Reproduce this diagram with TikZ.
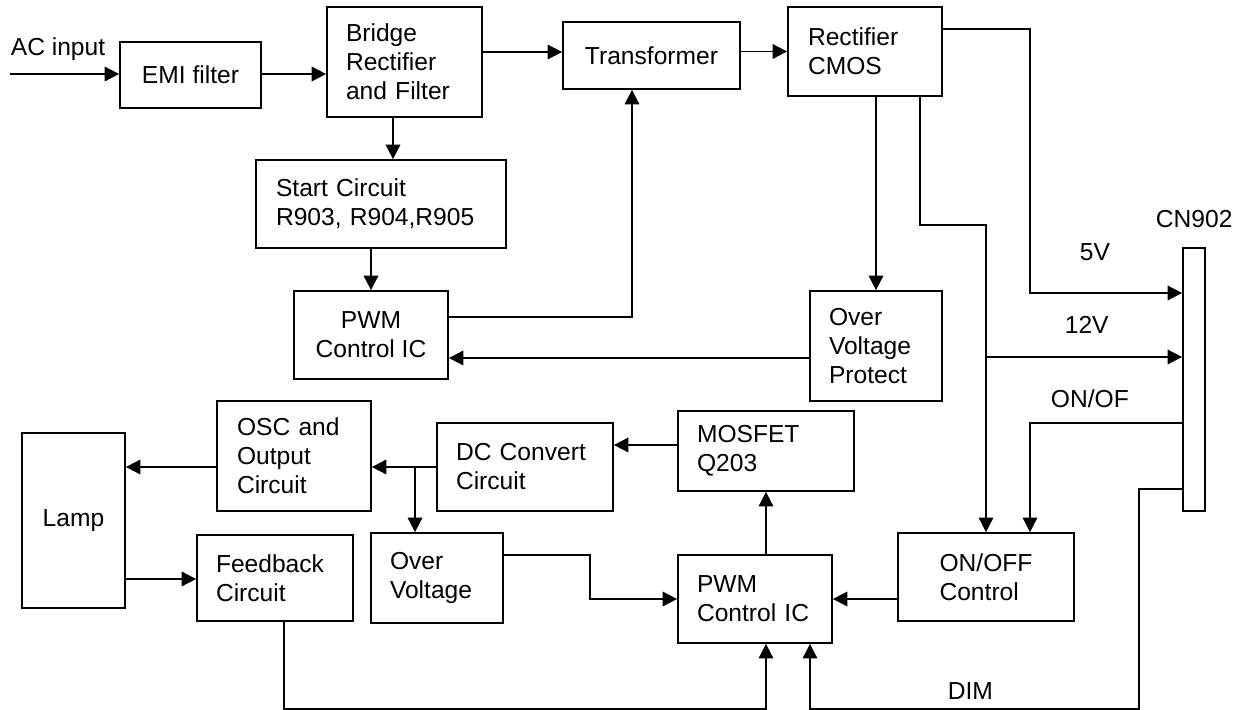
\documentclass[tikz,border=0pt]{standalone}
\usepackage{fontspec}
\setmainfont{Liberation Sans}
\usetikzlibrary{arrows.meta}

\begin{document}
\begin{tikzpicture}[
    x=0.02cm, y=-0.02cm,
    font=\fontsize{14}{16.5}\selectfont,
    >={Triangle[length=0.29cm,width=0.29cm]},
    line width=1pt,
    blk/.style={draw=black, rectangle, inner sep=0pt, align=left},
    lbl/.style={inner sep=0pt, anchor=base west}
]
\useasboundingbox (0,0) rectangle (1245,710);

% top row
\node[blk, align=center, minimum width=2.82cm, minimum height=1.32cm] (emi) at (190.5,75) {EMI filter};
\node[blk, text width=2.34cm, minimum width=3.10cm, minimum height=2.20cm] (bridge) at (404.5,62) {Bridge\\Rectifier\\and Filter};
\node[blk, align=center, minimum width=3.54cm, minimum height=1.34cm] (trans) at (651.5,55.5) {Transformer};
\node[blk, text width=2.28cm, minimum width=3.08cm, minimum height=1.78cm] (rect) at (865,51.5) {Rectifier\\CMOS};

% primary side
\node[blk, text width=4.20cm, minimum width=5.00cm, minimum height=1.76cm] (start) at (381,204) {Start Circuit\\R903, R904,R905};
\node[blk, align=center, minimum width=3.08cm, minimum height=1.76cm] (pwm1) at (371,335) {PWM\\Control IC};
\node[blk, text width=1.88cm, minimum width=2.64cm, minimum height=2.20cm] (ovp) at (876,346) {Over\\Voltage\\Protect};
\node[blk, minimum width=0.44cm, minimum height=5.26cm] (cn) at (1194,379.5) {};

% inverter side
\node[blk, align=center, minimum width=2.06cm, minimum height=3.50cm] (lamp) at (73.5,520.5) {Lamp};
\node[blk, text width=2.28cm, minimum width=3.08cm, minimum height=2.20cm] (osc) at (294,456) {OSC and\\Output\\Circuit};
\node[blk, text width=2.76cm, minimum width=3.52cm, minimum height=1.76cm] (dc) at (525,467) {DC Convert\\Circuit};
\node[blk, text width=2.76cm, minimum width=3.52cm, minimum height=1.60cm] (mosfet) at (766,451) {MOSFET\\Q203};
\node[blk, text width=2.36cm, minimum width=3.12cm, minimum height=1.72cm] (fb) at (275,578) {Feedback\\Circuit};
\node[blk, text width=1.88cm, minimum width=2.64cm, minimum height=1.80cm] (ov) at (437,578) {Over\\Voltage};
\node[blk, text width=2.32cm, minimum width=3.08cm, minimum height=1.76cm] (pwm2) at (755,599) {PWM\\Control IC};
\node[blk, minimum width=3.52cm, minimum height=1.76cm] (onoff) at (986,577) {ON/OFF\\Control};

% labels
\node[lbl] (acl) at (10,55) {AC input};
\node[lbl] (cnl) at (1155,227) {CN902};
\node[lbl] (v5l) at (1079,260) {5V};
\node[lbl] (v12l) at (1064,333) {12V};
\node[lbl] (onl) at (1050,407) {ON/OF};
\node[lbl] (diml) at (947,699) {DIM};

\coordinate (acin) at (10,74);
\coordinate (c5) at (1030,293);
\coordinate (j12) at (986,357);
\coordinate (jdc) at (415,467);
\coordinate (jov) at (590,599);

% connectors
\draw[->] (acin) -- (acin -| emi.west);
\draw[->] (emi.east |- 0,74) -- (bridge.west |- 0,74);
\draw[->] (bridge.east |- 0,52) -- (trans.west |- 0,52);
\draw[->] (trans.east |- rect.west) -- (rect.west);
\draw[->] (bridge.south -| 393,0) -- (start.north -| 393,0);
\draw[->] (start.south -| pwm1.north) -- (pwm1.north);
\draw[->] (pwm1.east |- 0,317) -| (trans.south -| 632,0);
\draw[->] (rect.east |- 0,29) -| (c5) -- (c5 -| cn.west);
\draw[->] (rect.south -| ovp.north) -- (ovp.north);
\draw[->] (rect.south -| 920,0) |- (onoff.north |- 0,225) -- (onoff.north);
\draw[->] (j12) -- (j12 -| cn.west);
\draw[->] (ovp.west |- 0,358) -- (pwm1.east |- 0,358);
\draw[->] (cn.west |- 0,423) -| (onoff.north -| 1030,0);
\draw[->] (cn.west |- 0,489) -| (1139,709) -| (pwm2.south -| 810,0);
\draw[->] (onoff.west |- pwm2.east) -- (pwm2.east);
\draw[->] (pwm2.north -| mosfet.south) -- (mosfet.south);
\draw[->] (mosfet.west |- 0,445) -- (dc.east |- 0,445);
\draw[->] (dc.west) -- (dc.west -| osc.east);
\draw[->] (jdc) -- (ov.north -| jdc);
\draw[->] (osc.west |- 0,467) -- (lamp.east |- 0,467);
\draw[->] (lamp.east |- 0,579) -- (fb.west |- 0,579);
\draw[->] (ov.east |- 0,555) -| (jov) -- (jov -| pwm2.west);
\draw[->] (fb.south -| 284,0) |- (766,709) -- (pwm2.south -| 766,0);

\end{tikzpicture}
\end{document}
